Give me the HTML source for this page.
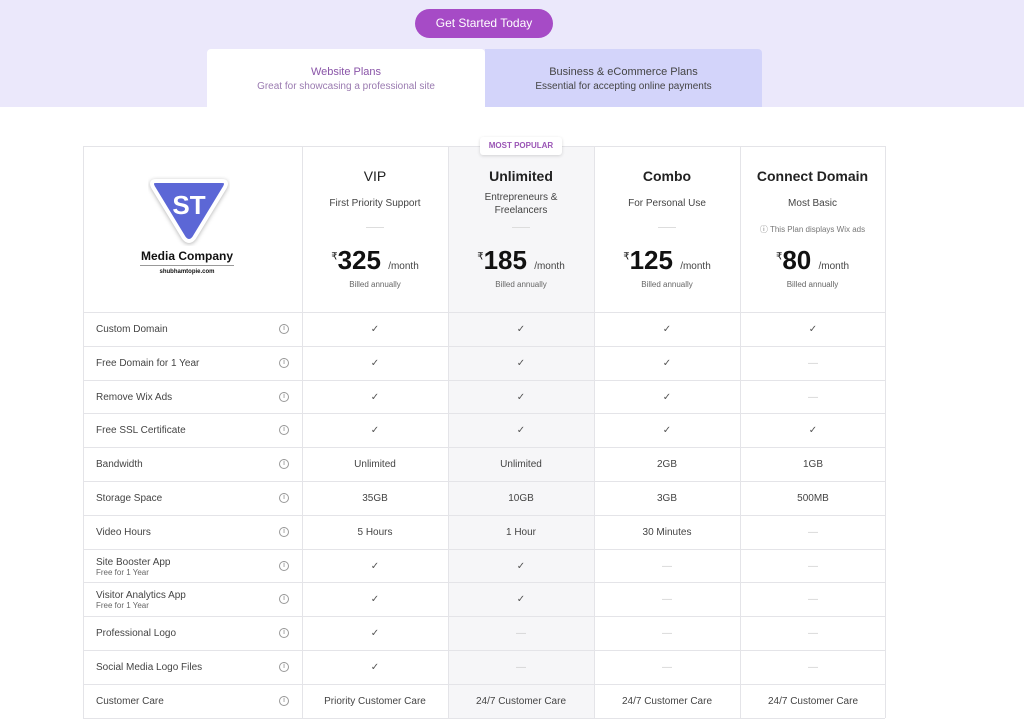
<!DOCTYPE html>
<html><head><meta charset="utf-8"><style>
*{margin:0;padding:0;box-sizing:border-box}
body{width:1024px;height:728px;background:#fff;font-family:"Liberation Sans",sans-serif;position:relative;overflow:hidden;color:#333}
.top{position:absolute;left:0;top:0;width:1024px;height:107px;background:#ebe8fb}
.btn{position:absolute;left:415px;top:9px;width:138px;height:29px;border-radius:15px;background:#a64bc6;color:#fff;font-size:12px;text-align:center;line-height:29px}
.tab{position:absolute;top:49px;height:58px;text-align:center;font-size:10px;padding-top:17px}
.tab b{font-weight:normal;display:block;margin-bottom:3px;font-size:11px}
.t1{left:207px;width:278px;background:#fff;border-radius:4px 4px 0 0;color:#9a7ab0}
.t1 b{color:#8a55a8}
.t2{left:485px;width:277px;background:#d3d4fa;color:#444;border-radius:0 4px 0 0}
.a{position:absolute}
.hl{position:absolute;left:83px;width:802px;height:1px;background:#e4e4e8}
.vl{position:absolute;top:146px;height:572px;width:1px;background:#e4e4e8}
.pop{position:absolute;left:448px;top:146px;width:146px;height:572px;background:#f6f6f8}
.c{position:absolute;text-align:center;font-size:10px;color:#444}
.lab{position:absolute;left:96px;font-size:10px;color:#444}
.lab small{display:block;font-size:8px;color:#666}
.i{position:absolute;left:279px;width:10px;height:10px;border:1px solid #999;border-radius:50%;font-size:7px;line-height:8px;text-align:center;color:#777}
.dash{color:#ccc}
.ck{color:#555}
</style></head><body>
<div class="top"></div>
<div class="btn">Get Started Today</div>
<div class="tab t1"><b>Website Plans</b>Great for showcasing a professional site</div>
<div class="tab t2"><b>Business &amp; eCommerce Plans</b>Essential for accepting online payments</div>
<div class="pop"></div>
<div class="hl" style="top:146px"></div>
<div class="vl" style="left:83px"></div><div class="vl" style="left:302px"></div><div class="vl" style="left:448px"></div><div class="vl" style="left:594px"></div><div class="vl" style="left:740px"></div><div class="vl" style="left:885px"></div>
<div class="a" style="left:480px;top:137px;width:82px;height:18px;background:#fff;border-radius:3px;box-shadow:0 1px 3px rgba(0,0,0,.15);font-size:8px;color:#9a55b5;text-align:center;line-height:18px;font-weight:bold">MOST POPULAR</div>
<svg class="a" style="left:148px;top:176px" width="82" height="70"><path d="M8 5 Q2 5 5 11 L36 62 Q41 68 46 62 L77 11 Q80 5 74 5Z" fill="#5c67d6" stroke="#fff" stroke-width="4" style="filter:drop-shadow(0 1px 2px rgba(0,0,0,.3))"/><text x="41" y="38" font-size="26" font-weight="bold" fill="#fff" text-anchor="middle" font-family="Liberation Sans">ST</text></svg>
<div class="a" style="left:120px;top:249px;width:134px;text-align:center;font-size:12px;font-weight:bold;color:#111">Media Company</div>
<div class="a" style="left:140px;top:265px;width:94px;height:1px;background:#999"></div>
<div class="a" style="left:120px;top:269px;width:134px;text-align:center;font-size:6px;font-weight:bold;color:#111">shubhamtopie.com</div>
<div class="c" style="left:302px;width:146px;top:168px;font-size:14px;color:#222">VIP</div>
<div class="c" style="left:448px;width:146px;top:168px;font-size:14px;color:#222;font-weight:bold">Unlimited</div>
<div class="c" style="left:594px;width:146px;top:168px;font-size:14px;color:#222;font-weight:bold">Combo</div>
<div class="c" style="left:740px;width:145px;top:168px;font-size:14px;color:#222;font-weight:bold">Connect Domain</div>
<div class="c" style="left:302px;width:146px;top:198px">First Priority Support</div>
<div class="c" style="left:448px;width:146px;top:191px;line-height:13px">Entrepreneurs &amp;<br>Freelancers</div>
<div class="c" style="left:594px;width:146px;top:198px">For Personal Use</div>
<div class="c" style="left:740px;width:145px;top:198px">Most Basic</div>
<div class="c" style="left:740px;width:145px;top:224px;font-size:8px;color:#777">ⓘ This Plan displays Wix ads</div>
<div class="a" style="left:366px;top:227px;width:18px;height:1px;background:#ddd"></div>
<div class="a" style="left:512px;top:227px;width:18px;height:1px;background:#ddd"></div>
<div class="a" style="left:658px;top:227px;width:18px;height:1px;background:#ddd"></div>
<div class="c" style="left:302px;width:146px;top:245px;font-size:26px;color:#111;font-weight:bold"><sup style="font-size:10px;font-weight:normal">₹</sup>325 <span style="font-size:10px;color:#444;font-weight:normal">/month</span></div>
<div class="c" style="left:448px;width:146px;top:245px;font-size:26px;color:#111;font-weight:bold"><sup style="font-size:10px;font-weight:normal">₹</sup>185 <span style="font-size:10px;color:#444;font-weight:normal">/month</span></div>
<div class="c" style="left:594px;width:146px;top:245px;font-size:26px;color:#111;font-weight:bold"><sup style="font-size:10px;font-weight:normal">₹</sup>125 <span style="font-size:10px;color:#444;font-weight:normal">/month</span></div>
<div class="c" style="left:740px;width:145px;top:245px;font-size:26px;color:#111;font-weight:bold"><sup style="font-size:10px;font-weight:normal">₹</sup>80 <span style="font-size:10px;color:#444;font-weight:normal">/month</span></div>
<div class="c" style="left:302px;width:146px;top:280px;font-size:8px;color:#666">Billed annually</div>
<div class="c" style="left:448px;width:146px;top:280px;font-size:8px;color:#666">Billed annually</div>
<div class="c" style="left:594px;width:146px;top:280px;font-size:8px;color:#666">Billed annually</div>
<div class="c" style="left:740px;width:145px;top:280px;font-size:8px;color:#666">Billed annually</div>
<div id="rows"></div>
<script>
var R=[["Custom Domain","",["✓","✓","✓","✓"]],["Free Domain for 1 Year","",["✓","✓","✓","—"]],["Remove Wix Ads","",["✓","✓","✓","—"]],["Free SSL Certificate","",["✓","✓","✓","✓"]],["Bandwidth","",["Unlimited","Unlimited","2GB","1GB"]],["Storage Space","",["35GB","10GB","3GB","500MB"]],["Video Hours","",["5 Hours","1 Hour","30 Minutes","—"]],["Site Booster App","Free for 1 Year",["✓","✓","—","—"]],["Visitor Analytics App","Free for 1 Year",["✓","✓","—","—"]],["Professional Logo","",["✓","—","—","—"]],["Social Media Logo Files","",["✓","—","—","—"]],["Customer Care","",["Priority Customer Care","24/7 Customer Care","24/7 Customer Care","24/7 Customer Care"]]];
var X=[302,448,594,740],h="";
R.forEach(function(r,i){var t=312+i*33.8;h+='<div class="hl" style="top:'+t+'px"></div>';
h+='<div class="lab" style="top:'+(t+(r[1]?8:12))+'px">'+r[0]+(r[1]?'<small>'+r[1]+'</small>':'')+'</div><div class="i" style="top:'+(t+12)+'px">i</div>';
r[2].forEach(function(v,j){h+='<div class="c'+(v=="—"?' dash':v=="✓"?' ck':'')+'" style="left:'+X[j]+'px;width:146px;top:'+(t+12)+'px">'+v+'</div>';});});
h+='<div class="hl" style="top:718px"></div>';
document.getElementById("rows").innerHTML=h;
</script>
</body></html>
